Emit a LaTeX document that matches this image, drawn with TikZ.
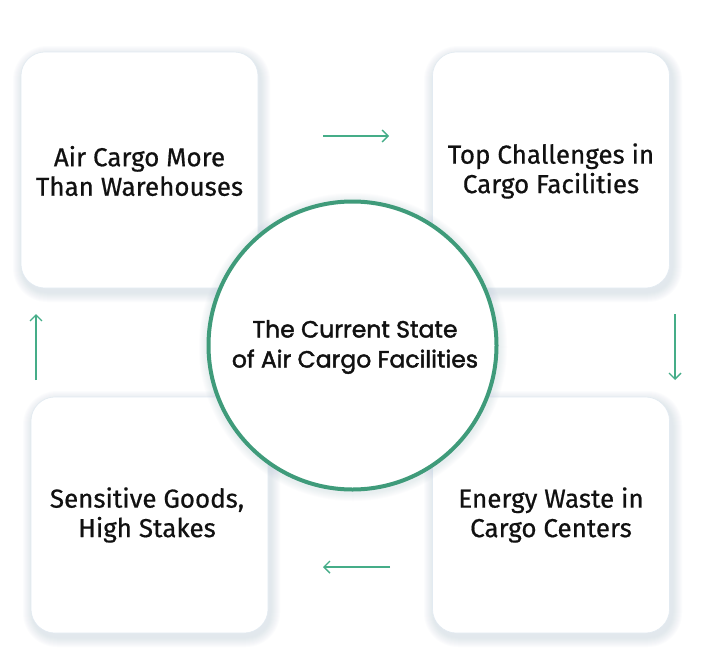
\documentclass[tikz,border=0pt]{standalone}
\usepackage{fontspec}
\setmainfont{Fira Sans}
\newfontfamily\cardfont{Fira Sans}[FakeBold=0.6]
\newfontfamily\centerfont{Poppins}[FakeBold=1.8]
\usetikzlibrary{arrows.meta}
\definecolor{ringgreen}{HTML}{3F9B7A}
\definecolor{arrowgreen}{HTML}{45AD88}
\definecolor{shadowblue}{HTML}{B8C9D8}
\definecolor{edgeblue}{HTML}{E2EAF1}
\definecolor{inktext}{HTML}{111111}
\tikzset{
  x=1pt,y=-1pt,
  cardbox/.style={draw=edgeblue,line width=0.6pt,fill=white,rounded corners=24pt,minimum width=237pt,minimum height=236pt,inner sep=0pt},
  cardtext/.style={font=\cardfont\fontsize{26}{29.5}\selectfont,align=center,text=inktext},
  flowarrow/.style={draw=arrowgreen,line width=1.4pt,-{Straight Barb[length=6pt,width=12pt,line width=1.4pt]}},
  ring/.style={circle,draw=ringgreen,line width=4pt,fill=white,minimum size=288pt,inner sep=0pt},
}
\newcommand{\softshadow}[4]{%
  \foreach \k in {1,...,10}{%
    \fill[shadowblue,opacity=0.045,rounded corners=24pt+\k pt]
      (#1-\k+2,#2-\k+4) rectangle (#3+\k+2,#4+\k+4);
  }%
}
\begin{document}
\begin{tikzpicture}
\useasboundingbox[fill=white] (0,0) rectangle (711,653);
% shadows
\softshadow{21}{52}{258}{288}
\softshadow{432}{52}{670}{288}
\softshadow{31}{397}{268}{633}
\softshadow{432}{397}{670}{633}
% cards
\node[cardbox] (c1) at (139.5,170) {};
\node[cardbox] (c2) at (551,170) {};
\node[cardbox] (c3) at (149.5,515) {};
\node[cardbox] (c4) at (551,515) {};
\node[cardtext] (t1) at (139.5,171) {Air Cargo More\\Than Warehouses};
\node[cardtext] (t2) at (551,171) {Top Challenges in\\Cargo Facilities};
\node[cardtext] (t3) at (147,515) {Sensitive Goods,\\High Stakes};
\node[cardtext] (t4) at (551,515) {Energy Waste in\\Cargo Centers};
% ring shadow
\foreach \k in {1,...,8}{\fill[shadowblue,opacity=0.04] (353,347) circle (146+\k);}
\node[ring] (hub) at (352.5,345.5) {};
\node[font=\centerfont\fontsize{23.5}{30}\selectfont,align=center,text=inktext] (ht) at (355,347) {The Current State\\of Air Cargo Facilities};
% arrows
\coordinate (a1s) at (323,136); \coordinate (a1e) at (389,136);
\coordinate (a2s) at (675,314); \coordinate (a2e) at (675,380);
\coordinate (a3s) at (390,567); \coordinate (a3e) at (323,567);
\coordinate (a4s) at (36,380);  \coordinate (a4e) at (36,314);
\draw[flowarrow] (a1s) -- (a1e);
\draw[flowarrow] (a2s) -- (a2e);
\draw[flowarrow] (a3s) -- (a3e);
\draw[flowarrow] (a4s) -- (a4e);
\end{tikzpicture}
\end{document}
